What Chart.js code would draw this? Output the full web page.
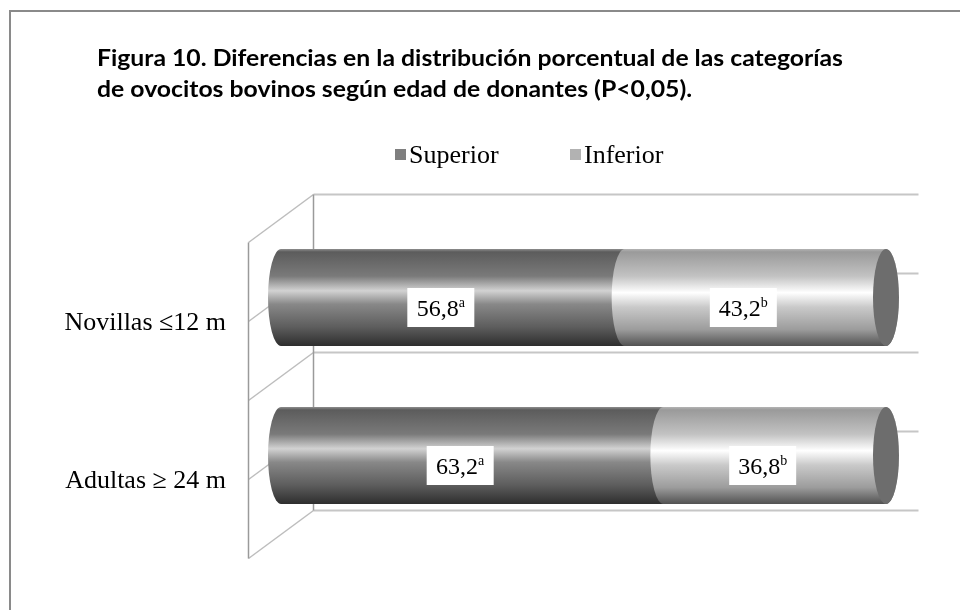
<!DOCTYPE html>
<html>
<head>
<meta charset="utf-8">
<script src="https://cdn.jsdelivr.net/npm/chart.js@4.4.1/dist/chart.umd.min.js"></script>
<style>
  html, body { margin: 0; padding: 0; background: #ffffff; }
  #wrap { position: relative; width: 960px; height: 610px; }
</style>
</head>
<body>
<div id="wrap"><canvas id="chart" width="960" height="610"></canvas></div>
<script>
// Data
const categories = ['Novillas \u226412 m', 'Adultas \u2265 24 m'];
const seriesNames = ['Superior', 'Inferior'];
const superiorValues = [56.8, 63.2];
const inferiorValues = [43.2, 36.8];
const superiorLetters = ['a', 'a'];
const inferiorLetters = ['b', 'b'];
const titleLines = [
  'Figura 10. Diferencias en la distribución porcentual de las categorías',
  'de ovocitos bovinos según edad de donantes (P<0,05).'
];

// Styling
const SERIF = '"Liberation Serif", "DejaVu Serif", serif';
const legendColors = ['#7f7f7f', '#b2b2b2'];
const gradientStops = [
  [[0, '#8e8e8e'], [0.03, '#5c5c5c'], [0.28, '#7a7a7a'], [0.43, '#d2d2d2'], [0.57, '#888888'], [0.8, '#5e5e5e'], [1, '#2e2e2e']],
  [[0, '#b4b4b4'], [0.03, '#9a9a9a'], [0.28, '#c2c2c2'], [0.45, '#ffffff'], [0.6, '#c9c9c9'], [0.83, '#9c9c9c'], [1, '#525252']]
];
const capColor = '#6d6d6d';
const DEPTH_X = 32.5, DEPTH_Y = 24, END_RX = 13;
const TITLE_WIDTH = 746;

// Outer border, title and legend
const decorPlugin = {
  id: 'decor',
  beforeDraw(chart) {
    const ctx = chart.ctx;
    ctx.save();
    ctx.fillStyle = '#ffffff';
    ctx.fillRect(0, 0, chart.width, chart.height);
    ctx.strokeStyle = '#8a8a8a';
    ctx.lineWidth = 2;
    ctx.strokeRect(10, 11, chart.width + 20, chart.height + 20);

    // title: two left-aligned bold lines, first line set to the block width
    ctx.fillStyle = '#000000';
    ctx.font = 'bold 22.5px Lato, "Open Sans", sans-serif';
    ctx.textBaseline = 'alphabetic';
    ctx.textAlign = 'left';
    const sx = TITLE_WIDTH / ctx.measureText(titleLines[0]).width;
    ctx.save();
    ctx.translate(97, 0);
    ctx.scale(sx, 1);
    ctx.fillText(titleLines[0], 0, 66);
    ctx.fillText(titleLines[1], 0, 97);
    ctx.restore();

    ctx.font = '26px ' + SERIF;
    const items = [{x: 395}, {x: 570}];
    chart.data.datasets.forEach((ds, i) => {
      ctx.fillStyle = legendColors[i];
      ctx.fillRect(items[i].x, 149, 11, 11);
      ctx.fillStyle = '#000000';
      ctx.fillText(ds.label, items[i].x + 14, 163);
    });
    ctx.restore();
  }
};

// 3-D walls and gridlines
const wallPlugin = {
  id: 'walls',
  beforeDatasetsDraw(chart) {
    const ctx = chart.ctx;
    const a = chart.chartArea;
    const n = chart.data.labels.length;
    const step = (a.bottom - a.top) / (n * 2);
    const levels = [];
    for (let k = 0; k <= n * 2; k++) levels.push(a.top + k * step);
    ctx.save();
    ctx.lineCap = 'butt';
    // back-wall horizontal lines
    ctx.strokeStyle = '#c6c6c6';
    ctx.lineWidth = 2;
    levels.forEach(v => {
      ctx.beginPath();
      ctx.moveTo(a.left + DEPTH_X, v - DEPTH_Y);
      ctx.lineTo(a.right + DEPTH_X, v - DEPTH_Y);
      ctx.stroke();
    });
    // side-wall diagonals
    ctx.strokeStyle = '#bdbdbd';
    ctx.lineWidth = 1.5;
    levels.forEach(v => {
      ctx.beginPath();
      ctx.moveTo(a.left - DEPTH_X, v + DEPTH_Y);
      ctx.lineTo(a.left + DEPTH_X, v - DEPTH_Y);
      ctx.stroke();
    });
    // side-wall verticals
    ctx.strokeStyle = '#9a9a9a';
    ctx.lineWidth = 1.5;
    ctx.beginPath();
    ctx.moveTo(a.left + DEPTH_X, a.top - DEPTH_Y);
    ctx.lineTo(a.left + DEPTH_X, a.bottom - DEPTH_Y);
    ctx.moveTo(a.left - DEPTH_X, a.top + DEPTH_Y);
    ctx.lineTo(a.left - DEPTH_X, a.bottom + DEPTH_Y);
    ctx.stroke();
    ctx.restore();
  }
};

function fmt(v) { return v.toFixed(1).replace('.', ','); }

// Cylinders and value labels
const cylinderPlugin = {
  id: 'cylinders',
  beforeDatasetDraw() { return false; },
  afterDatasetsDraw(chart) {
    const ctx = chart.ctx;
    const metas = chart.data.datasets.map((_, i) => chart.getDatasetMeta(i));
    ctx.save();
    metas.forEach((meta, di) => {
      meta.data.forEach(bar => {
        const p = bar.getProps(['x', 'y', 'base', 'height'], true);
        const left = Math.min(p.base, p.x), right = Math.max(p.base, p.x);
        const top = p.y - p.height / 2, bottom = p.y + p.height / 2, ry = p.height / 2;
        const g = ctx.createLinearGradient(0, top, 0, bottom);
        gradientStops[di].forEach(s => g.addColorStop(s[0], s[1]));
        ctx.beginPath();
        ctx.moveTo(left, top);
        ctx.lineTo(right, top);
        ctx.ellipse(right, p.y, END_RX, ry, 0, -Math.PI / 2, Math.PI / 2, false);
        ctx.lineTo(left, bottom);
        ctx.ellipse(left, p.y, END_RX, ry, 0, Math.PI / 2, Math.PI * 1.5, false);
        ctx.closePath();
        ctx.fillStyle = g;
        ctx.fill();
      });
    });
    // end caps on the outer segment
    const last = metas[metas.length - 1];
    last.data.forEach(bar => {
      const p = bar.getProps(['x', 'y', 'height'], true);
      ctx.beginPath();
      ctx.ellipse(p.x, p.y, END_RX, p.height / 2, 0, 0, Math.PI * 2);
      ctx.fillStyle = capColor;
      ctx.fill();
    });
    // value labels
    const letters = [superiorLetters, inferiorLetters];
    metas.forEach((meta, di) => {
      meta.data.forEach((bar, i) => {
        const p = bar.getProps(['x', 'y', 'base'], true);
        const cx = (p.x + p.base) / 2 - 12, cy = p.y + 10;
        const main = fmt(chart.data.datasets[di].data[i]);
        const sup = letters[di][i];
        ctx.font = '24px ' + SERIF;
        const wMain = ctx.measureText(main).width;
        ctx.font = '14px ' + SERIF;
        const wSup = ctx.measureText(sup).width;
        ctx.fillStyle = '#ffffff';
        ctx.fillRect(cx - 33.5, cy - 19.5, 67, 39);
        const x0 = cx - (wMain + wSup) / 2;
        ctx.fillStyle = '#000000';
        ctx.textAlign = 'left';
        ctx.textBaseline = 'alphabetic';
        ctx.font = '24px ' + SERIF;
        ctx.fillText(main, x0, cy + 8);
        ctx.font = '14px ' + SERIF;
        ctx.fillText(sup, x0 + wMain, cy - 1);
      });
    });
    ctx.restore();
  }
};

new Chart(document.getElementById('chart'), {
  type: 'bar',
  data: {
    labels: categories,
    datasets: [
      { label: seriesNames[0], data: superiorValues, backgroundColor: legendColors[0], barPercentage: 0.614, categoryPercentage: 1 },
      { label: seriesNames[1], data: inferiorValues, backgroundColor: legendColors[1], barPercentage: 0.614, categoryPercentage: 1 }
    ]
  },
  options: {
    responsive: false,
    animation: false,
    indexAxis: 'y',
    layout: { padding: { left: 0, right: 74, top: 218.5, bottom: 75.5 } },
    plugins: { legend: { display: false }, title: { display: false }, tooltip: { enabled: false } },
    scales: {
      x: { stacked: true, min: 0, max: 100, display: false },
      y: {
        stacked: true,
        grid: { display: false, drawTicks: false },
        border: { display: false },
        ticks: { padding: 55, labelOffset: 26, color: '#000000', font: { family: SERIF, size: 26 } },
        afterFit(scale) { scale.width = 281; }
      }
    }
  },
  plugins: [decorPlugin, wallPlugin, cylinderPlugin]
});
</script>
</body>
</html>
